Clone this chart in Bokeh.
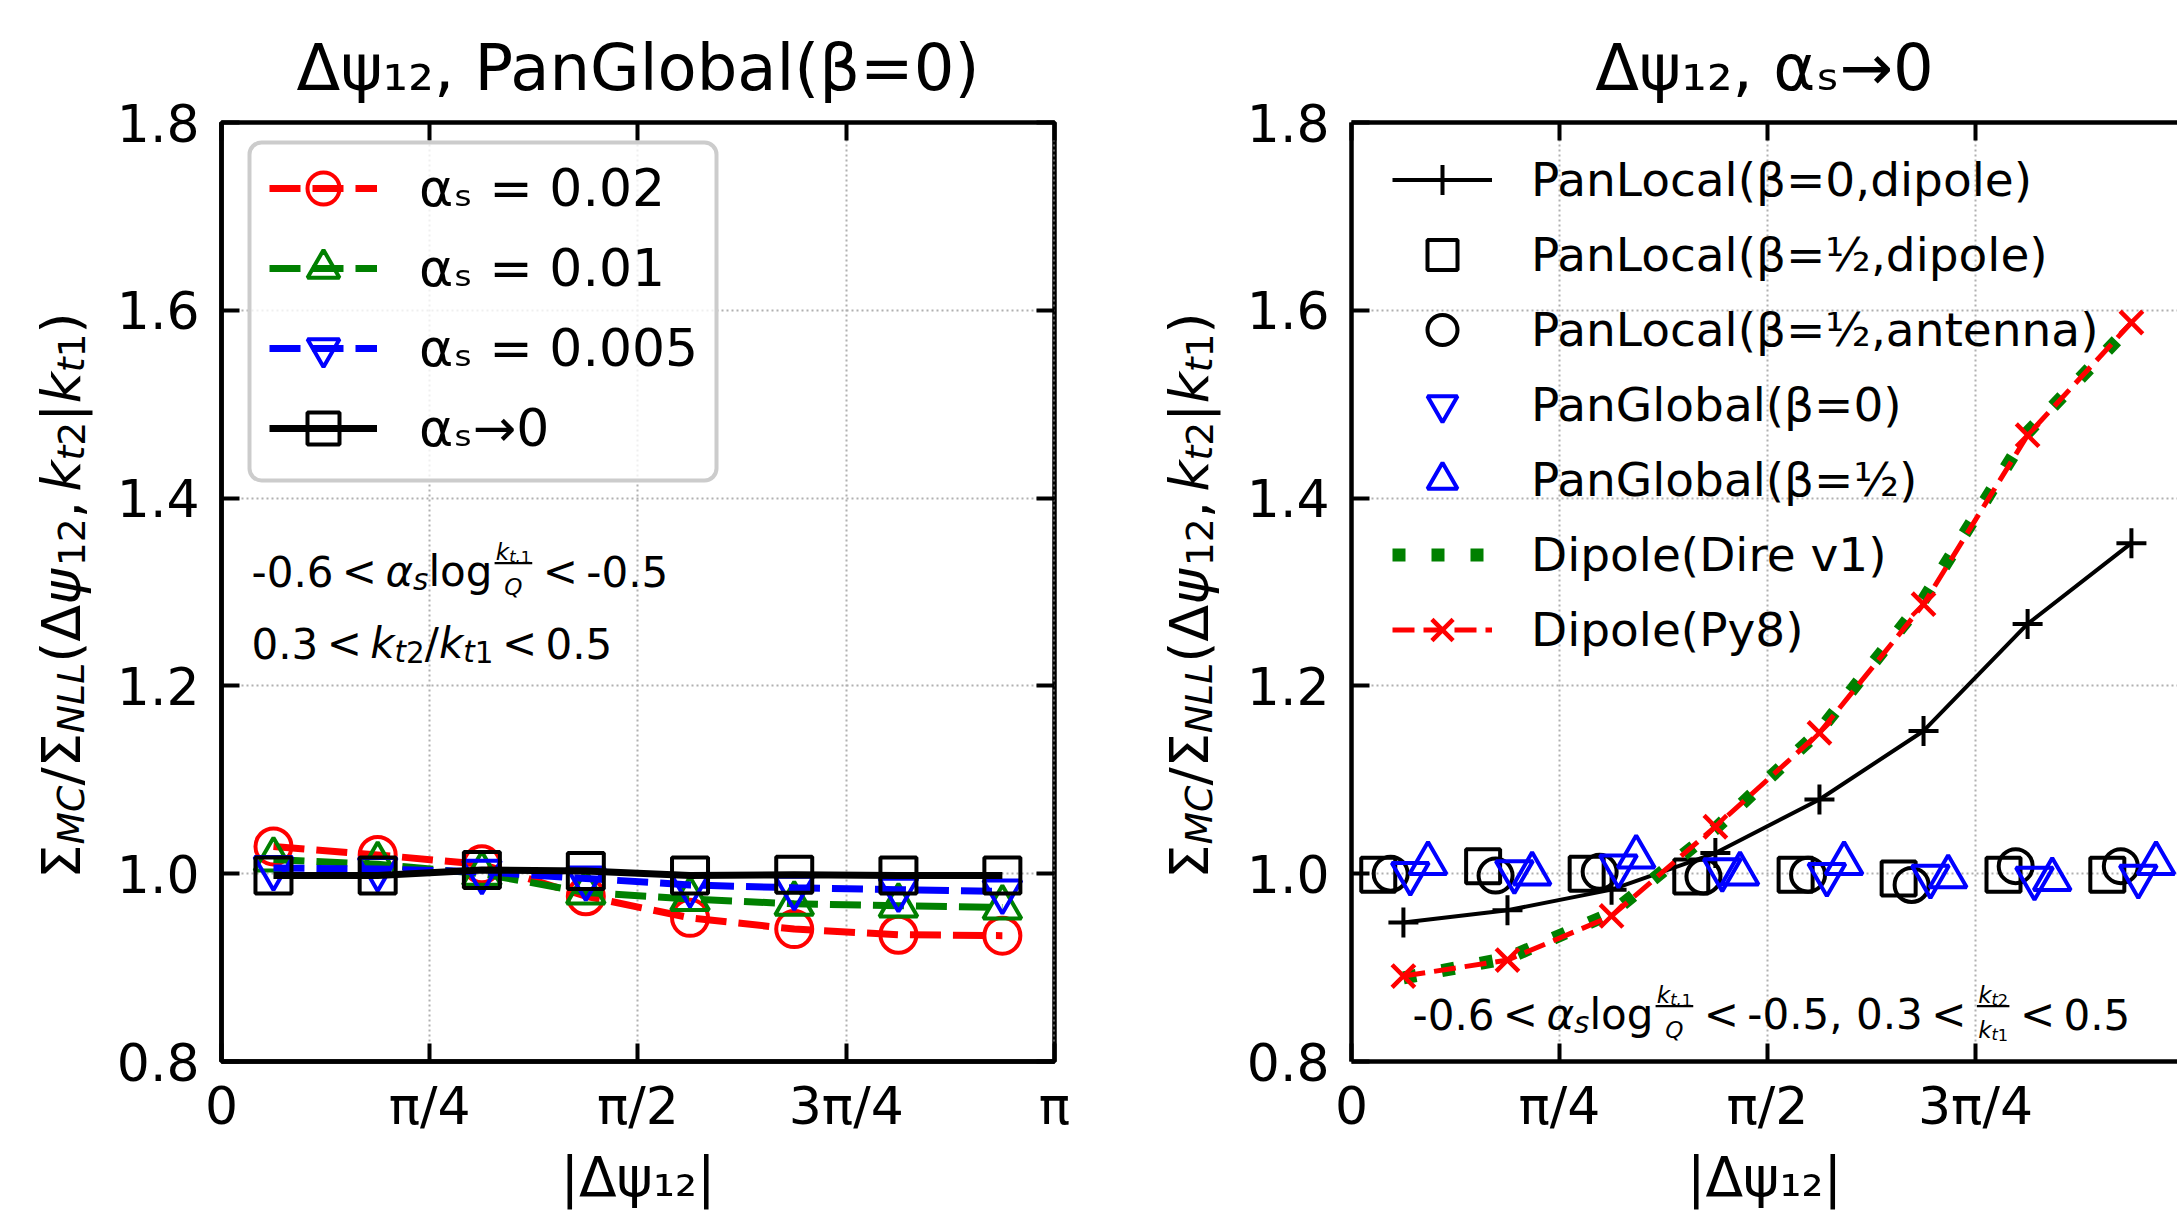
import numpy as np
from bokeh.plotting import figure
from bokeh.models import (Range1d, LinearAxis, FixedTicker, Label, BoxAnnotation,
                          Legend, LegendItem, CustomJSTickFormatter, PrintfTickFormatter)
from bokeh.layouts import row
from bokeh.embed import file_html
from bokeh.resources import INLINE

# ---------------- data ----------------
dpsi_bins = [0.196, 0.589, 0.982, 1.374, 1.767, 2.160, 2.553, 2.945]
x_tick_values = [0.0, 0.785398, 1.570796, 2.356194, 3.141592]
x_tick_labels = ["0", "π/4", "π/2", "3π/4", "π"]
y_tick_values = [0.8, 1.0, 1.2, 1.4, 1.6, 1.8]

# left panel: PanGlobal(beta=0) at finite alpha_s
left_as_0p02 = [1.029, 1.020, 1.010, 0.976, 0.953, 0.941, 0.935, 0.934]
left_as_0p01 = [1.015, 1.010, 1.000, 0.980, 0.973, 0.968, 0.966, 0.964]
left_as_0p005 = [1.006, 1.005, 1.002, 0.995, 0.988, 0.985, 0.983, 0.981]
left_as_0 = [0.998, 0.998, 1.004, 1.003, 0.998, 0.999, 0.998, 0.998]
left_labels = ["αₛ = 0.02", "αₛ = 0.01", "αₛ = 0.005", "αₛ→0"]

# right panel: alpha_s -> 0
x_panlocal_b0 = dpsi_bins
y_panlocal_b0 = [0.948, 0.961, 0.983, 1.022, 1.079, 1.152, 1.266, 1.352]
x_panlocal_bh_dip = [0.101, 0.497, 0.888, 1.283, 1.677, 2.066, 2.462, 2.854]
y_panlocal_bh_dip = [0.999, 1.008, 1.000, 0.997, 0.999, 0.995, 0.999, 0.999]
x_panlocal_bh_ant = [0.148, 0.544, 0.937, 1.329, 1.724, 2.115, 2.508, 2.905]
y_panlocal_bh_ant = [1.000, 0.998, 1.002, 0.997, 0.999, 0.988, 1.008, 1.008]
x_panglobal_b0 = [0.222, 0.615, 1.008, 1.400, 1.795, 2.186, 2.579, 2.971]
y_panglobal_b0 = [1.000, 1.002, 1.008, 1.004, 0.999, 0.997, 0.995, 0.997]
x_panglobal_bh = [0.289, 0.682, 1.075, 1.467, 1.860, 2.253, 2.646, 3.038]
y_panglobal_bh = [1.011, 1.000, 1.018, 1.000, 1.011, 0.997, 0.994, 1.011]
x_dipole = dpsi_bins
y_dire = [0.889, 0.910, 0.958, 1.048, 1.152, 1.292, 1.470, 1.584]
y_py8 = [0.891, 0.908, 0.955, 1.050, 1.150, 1.287, 1.467, 1.587]
right_labels = ["PanLocal(β=0,dipole)", "PanLocal(β=½,dipole)", "PanLocal(β=½,antenna)",
                "PanGlobal(β=0)", "PanGlobal(β=½)", "Dipole(Dire v1)", "Dipole(Py8)"]

titles = ["Δψ₁₂, PanGlobal(β=0)", "Δψ₁₂, αₛ→0"]
x_axis_title = "|Δψ₁₂|"

# ---------------- layout constants (page px, origin top-left) ----------------
FONT = "DejaVu Sans"
PAGE_H = 1211
TOP, BOTTOM = 122, 1066          # frame top / bottom (page px)
LF = (221, BOTTOM)               # left main frame: left edge, bottom edge
RF = (1351, BOTTOM)              # right main frame
BASE_FIX = 9                     # empirical baseline correction (px)

EM = {' ': 0.318, '(': 0.390, ')': 0.390, ',': 0.318, '-': 0.361, '.': 0.318, '/': 0.337,
      '<': 0.838, '=': 0.838, '|': 0.337, '→': 0.838,
      'C': 0.698, 'D': 0.770, 'G': 0.779, 'L': 0.557, 'M': 0.863, 'N': 0.748, 'P': 0.603, 'Q': 0.787,
      'a': 0.613, 'b': 0.635, 'c': 0.550, 'd': 0.635, 'e': 0.615, 'g': 0.635, 'i': 0.278, 'k': 0.579,
      'l': 0.278, 'n': 0.634, 'o': 0.612, 'p': 0.635, 's': 0.521, 't': 0.392,
      'Δ': 0.684, 'Σ': 0.632, 'α': 0.659, 'β': 0.638, 'ψ': 0.713}
for _d in "0123456789":
    EM[_d] = 0.636


def I(t, s=1.0, d=0.0):
    return (t, s, d, True)


def U(t, s=1.0, d=0.0):
    return (t, s, d, False)


def build(items, B):
    runs, bars, x = [], [], 0.0
    for it in items:
        if isinstance(it, (int, float)):
            x += it * B
            continue
        if it[0] == "frac":
            _, num, den, sc = it
            nr, nb, nw = build(num, B * sc)
            dr, db, dw = build(den, B * sc)
            w = max(nw, dw) + 0.16 * B
            bar = 0.20 * B
            ny = bar + 0.26 * B
            dy = bar - 0.16 * B - 0.75 * B * sc
            for (t, px, rx, ry, itl) in nr:
                runs.append((t, px, x + (w - nw) / 2 + rx, ny + ry, itl))
            for (t, px, rx, ry, itl) in dr:
                runs.append((t, px, x + (w - dw) / 2 + rx, dy + ry, itl))
            bars.append((x + 0.05 * B, x + w - 0.05 * B, bar))
            x += w
            continue
        t, sc, dyem, itl = it
        px = B * sc
        runs.append((t, px, x, dyem * B, itl))
        x += sum(EM.get(c, 0.6) for c in t) * px
    return runs, bars, x


def put(fig, frame, items, B, x, y, align="left", rotated=False):
    """frame = (page x of frame left edge, page y of frame bottom edge)"""
    runs, bars, total = build(items, B)
    fl, fb = frame
    if not rotated:
        x0 = x - total / 2 if align == "center" else x
        for (t, px, rx, ry, itl) in runs:
            fig.add_layout(Label(x=x0 + rx - fl, y=fb - y + ry + BASE_FIX, x_units="screen", y_units="screen",
                                 text=t, text_font=FONT, text_font_size=f"{px:.1f}px",
                                 text_font_style="italic" if itl else "normal", text_color="black",
                                 text_baseline="alphabetic", text_align="left"))
        for (a, b, by) in bars:
            fig.add_layout(BoxAnnotation(left=x0 + a - fl, right=x0 + b - fl,
                                         bottom=fb - y + by - 1.2 + BASE_FIX, top=fb - y + by + 1.2 + BASE_FIX,
                                         left_units="screen", right_units="screen",
                                         top_units="screen", bottom_units="screen",
                                         fill_color="black", fill_alpha=1.0, line_color=None))
    else:
        y0 = y + total / 2
        for (t, px, rx, ry, itl) in runs:
            fig.add_layout(Label(x=x - fl - ry, y=fb - y0 + rx, x_units="screen", y_units="screen",
                                 angle=np.pi / 2, text=t, text_font=FONT, text_font_size=f"{px:.1f}px",
                                 text_font_style="italic" if itl else "normal", text_color="black",
                                 text_baseline="alphabetic", text_align="left"))


def label_fig(w):
    f = figure(width=w, height=PAGE_H, x_range=Range1d(0, 1), y_range=Range1d(0, 1),
               x_axis_type=None, y_axis_type=None,
               min_border_left=0, min_border_right=0, min_border_top=TOP,
               min_border_bottom=PAGE_H - BOTTOM,
               output_backend="svg", toolbar_location=None, tools="")
    f.outline_line_color = None
    f.background_fill_color = "white"
    f.border_fill_color = "white"
    return f


def style_axis(ax, labels=True, line=True):
    ax.axis_line_width = 4.5 if line else 0
    ax.axis_line_color = "black" if line else None
    ax.major_tick_in = 18
    ax.major_tick_out = 0
    ax.major_tick_line_width = 4
    ax.major_tick_line_color = "black"
    ax.minor_tick_line_color = None
    ax.major_label_text_font = FONT
    ax.major_label_text_font_size = "52px"
    ax.major_label_text_color = "black"
    if not labels:
        ax.formatter = CustomJSTickFormatter(code="return '';")
        ax.major_label_standoff = 0
        ax.major_label_text_font_size = "0px"


def make_fig(width, xend, mbl, mbr, outline, title):
    p = figure(width=width, height=PAGE_H, x_range=Range1d(0, xend), y_range=Range1d(0.8, 1.8),
               min_border_left=mbl, min_border_right=mbr, min_border_top=TOP,
               min_border_bottom=PAGE_H - BOTTOM, title=title,
               output_backend="svg", toolbar_location=None, tools="")
    p.background_fill_color = "white"
    p.border_fill_color = "white"
    p.title.align = "center"
    p.title.text_font = FONT
    p.title.text_font_size = "64px"
    p.title.text_font_style = "normal"
    p.title.text_color = "black"
    p.title.standoff = 35
    if outline:
        p.outline_line_color = "black"
        p.outline_line_width = 4.5
    else:
        p.outline_line_color = None
    xt = FixedTicker(ticks=x_tick_values)
    yt = FixedTicker(ticks=y_tick_values)
    xfmt = CustomJSTickFormatter(args=dict(labels=x_tick_labels),
                                 code="const i = Math.round(tick / (Math.PI / 4)); return labels[i] ?? '';")
    xa = p.xaxis[0]
    xa.ticker = xt
    xa.formatter = xfmt
    style_axis(xa)
    xa.major_label_standoff = 14
    xa.axis_label = x_axis_title
    xa.axis_label_text_font = FONT
    xa.axis_label_text_font_size = "55px"
    xa.axis_label_text_font_style = "normal"
    xa.axis_label_text_color = "black"
    xa.axis_label_standoff = 6
    ya = p.yaxis[0]
    ya.ticker = yt
    ya.formatter = PrintfTickFormatter(format="%.1f")
    style_axis(ya)
    ya.major_label_standoff = 22
    top = LinearAxis(ticker=FixedTicker(ticks=x_tick_values))
    style_axis(top, labels=False, line=not outline)
    p.add_layout(top, "above")
    if outline:
        rt = LinearAxis(ticker=FixedTicker(ticks=y_tick_values))
        style_axis(rt, labels=False, line=False)
        p.add_layout(rt, "right")
    for g, t in ((p.xgrid, xt), (p.ygrid, yt)):
        g.ticker = t
        g.grid_line_color = "#b0b0b0"
        g.grid_line_width = 2
        g.grid_line_dash = "2 3"
    return p


ylabel = [U("Σ"), I("MC", 0.7, -0.18), U("/"), U("Σ"), I("NLL", 0.7, -0.18), U("("), U("Δ"), I("ψ"),
          U("12", 0.7, -0.18), U(","), 0.17, I("k"), I("t", 0.7, -0.18), U("2", 0.7, -0.18), U("|"),
          I("k"), I("t", 0.7, -0.18), U("1", 0.7, -0.18), U(")")]
frac_kt1_Q = ("frac", [I("k"), I("t,", 0.7, -0.2), U("1", 0.7, -0.2)], [I("Q")], 0.55)
frac_kt2_kt1 = ("frac", [I("k"), I("t", 0.7, -0.2), U("2", 0.7, -0.2)],
                [I("k"), I("t", 0.7, -0.2), U("1", 0.7, -0.2)], 0.55)
LT = [0.2, U("<"), 0.2]

# ---------------- left panel ----------------
yl1 = label_fig(108)
put(yl1, (0, BOTTOM), ylabel, 54, 61, 600, rotated=True)

p1 = make_fig(992, np.pi, 113, 46, True, titles[0])

left_series = [(left_as_0p02, "#ff0000", "circle", "31 12", 36),
               (left_as_0p01, "#008000", "triangle", "31 12", 38),
               (left_as_0p005, "#0000ff", "inverted_triangle", "31 12", 38),
               (left_as_0, "#000000", "square", "solid", 36)]
litems = []
for (ys, col, mk, dash, sz), lab in zip(left_series, left_labels):
    rl = p1.line(dpsi_bins, ys, line_color=col, line_width=7, line_dash=dash)
    rs = p1.scatter(dpsi_bins, ys, marker=mk, size=sz, line_color=col, line_width=4, fill_color=None)
    litems.append(LegendItem(label=lab, renderers=[rl, rs]))

box = BoxAnnotation(left=249 - LF[0], right=716 - LF[0], top=LF[1] - 147, bottom=LF[1] - 485,
                    left_units="screen", right_units="screen", top_units="screen", bottom_units="screen",
                    fill_color="white", fill_alpha=0.8, line_color="#cccccc", line_width=4,
                    line_dash="solid", line_alpha=1.0)
try:
    box.border_radius = 12
except Exception:
    pass
p1.add_layout(box)

leg1 = Legend(items=litems, location=(48, 593), glyph_width=108, glyph_height=80, label_height=80,
              spacing=0, padding=0, label_standoff=42, border_line_color=None,
              background_fill_alpha=0.0, label_text_font=FONT, label_text_font_size="52px",
              label_text_color="black")
p1.add_layout(leg1)

ann_a = [U("-0.6")] + LT + [I("α"), I("s", 0.7, -0.2), U("log"), frac_kt1_Q] + LT + [U("-0.5")]
ann_b = ([U("0.3")] + LT + [I("k"), I("t", 0.7, -0.2), U("2", 0.7, -0.2), U("/"), I("k"),
                            I("t", 0.7, -0.2), U("1", 0.7, -0.2)] + LT + [U("0.5")])
put(p1, LF, ann_a, 42, 251, 585)
put(p1, LF, ann_b, 42, 251, 657)

# ---------------- right panel ----------------
yl2 = label_fig(135)
put(yl2, (1100, BOTTOM), ylabel, 54, 1189, 600, rotated=True)

p2 = make_fig(942, 3.119, 116, 0, False, titles[1])

r_pl0_l = p2.line(x_panlocal_b0, y_panlocal_b0, line_color="black", line_width=4)
r_pl0_s = p2.scatter(x_panlocal_b0, y_panlocal_b0, marker="cross", size=30, line_color="black", line_width=4)
r_plhd = p2.scatter(x_panlocal_bh_dip, y_panlocal_bh_dip, marker="square", size=34, line_color="black",
                    line_width=4, fill_color=None)
r_plha = p2.scatter(x_panlocal_bh_ant, y_panlocal_bh_ant, marker="circle", size=34, line_color="black",
                    line_width=4, fill_color=None)
r_pg0 = p2.scatter(x_panglobal_b0, y_panglobal_b0, marker="inverted_triangle", size=37, line_color="#0000ff",
                   line_width=4, fill_color=None)
r_pgh = p2.scatter(x_panglobal_bh, y_panglobal_bh, marker="triangle", size=37, line_color="#0000ff",
                   line_width=4, fill_color=None)
r_dire = p2.line(x_dipole, y_dire, line_color="#008000", line_width=13, line_dash="13 26")
r_py8_l = p2.line(x_dipole, y_py8, line_color="#ff0000", line_width=5, line_dash="22 9")
r_py8_s = p2.scatter(x_dipole, y_py8, marker="x", size=32, line_color="#ff0000", line_width=4.5)

ritems = [LegendItem(label=right_labels[0], renderers=[r_pl0_l, r_pl0_s]),
          LegendItem(label=right_labels[1], renderers=[r_plhd]),
          LegendItem(label=right_labels[2], renderers=[r_plha]),
          LegendItem(label=right_labels[3], renderers=[r_pg0]),
          LegendItem(label=right_labels[4], renderers=[r_pgh]),
          LegendItem(label=right_labels[5], renderers=[r_dire]),
          LegendItem(label=right_labels[6], renderers=[r_py8_l, r_py8_s])]
leg2 = Legend(items=ritems, location=(41, 394), glyph_width=100, glyph_height=75, label_height=75,
              spacing=0, padding=0, label_standoff=39, border_line_color=None,
              background_fill_alpha=0.0, label_text_font=FONT, label_text_font_size="47px",
              label_text_color="black")
p2.add_layout(leg2)

ann_r = ([U("-0.6")] + LT + [I("α"), I("s", 0.7, -0.2), U("log"), frac_kt1_Q] + LT + [U("-0.5, 0.3")]
         + LT + [frac_kt2_kt1] + LT + [U("0.5")])
put(p2, RF, ann_r, 42, 1412, 1028)

layout = row(yl1, p1, yl2, p2)
open("out.html", "w").write(file_html(layout, INLINE))
